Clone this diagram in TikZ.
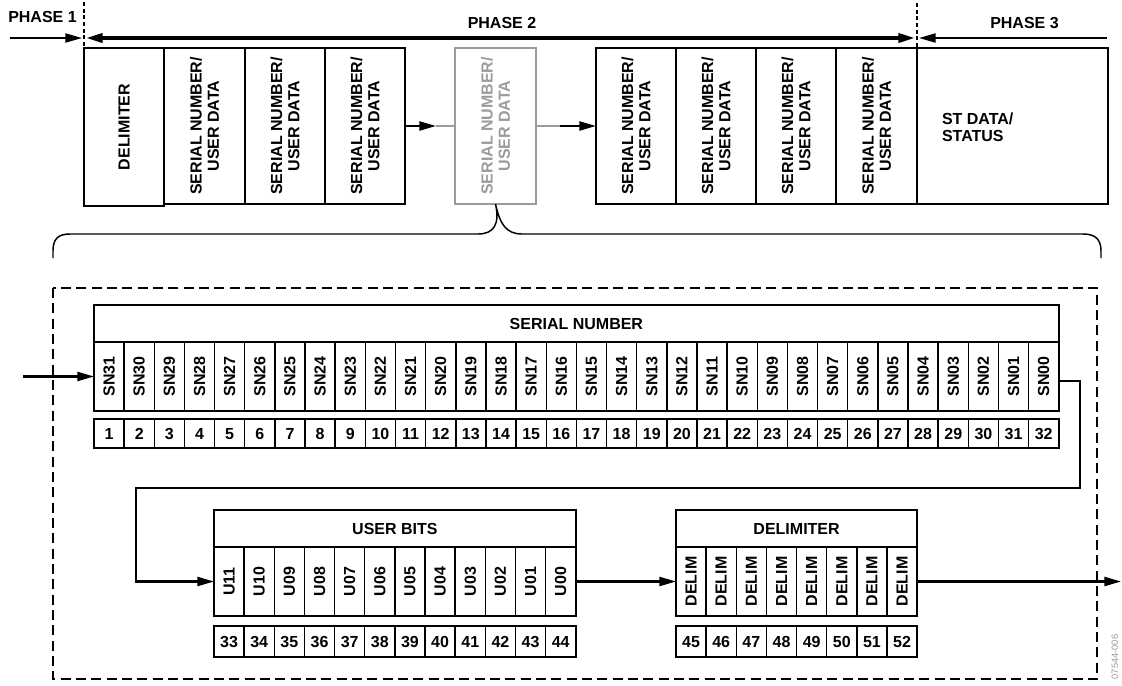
\documentclass[tikz,border=0pt]{standalone}
\usepackage{fontspec}
\setmainfont{Liberation Sans}
\usetikzlibrary{arrows.meta}
\definecolor{lgray}{RGB}{155,155,155}
\begin{document}
\begin{tikzpicture}[x=0.75pt,y=-0.75pt,
  every node/.style={font=\fontsize{12}{12.8}\selectfont\bfseries, inner sep=0pt, outer sep=0pt},
  sz/.style 2 args={minimum width=#1*0.75pt, minimum height=#2*0.75pt},
  tbox/.style={draw, line width=1.6pt, anchor=north west},
  cellbox/.style={draw, line width=1.1pt, anchor=north west},
  numbox/.style={draw, line width=1.1pt, anchor=north west, text height=8.6pt, text depth=0pt},
  titlebox/.style={draw, line width=1.6pt, anchor=north west},
  conn/.style={line width=1.6pt},
  arrowed/.style={-{Triangle[length=12.5pt,width=6.8pt]}},
  vlab/.style={rotate=90, align=center},
  phdash/.style={line width=0.9pt, dash pattern=on 3pt off 2pt},
  bigdash/.style={line width=1.2pt, dash pattern=on 7.5pt off 4pt},
]
\useasboundingbox (0,0) rectangle (1122,686);

% ---------- top row ----------
\node[tbox, sz={80}{158}] (d0) at (84,48) {};
\node[tbox, sz={81}{156}] (s1) at (164,48) {};
\node[tbox, sz={80}{156}] (s2) at (245,48) {};
\node[tbox, sz={80}{156}] (s3) at (325,48) {};
\node[tbox, sz={81}{156}, draw=lgray] (g) at (455,48) {};
\node[tbox, sz={80}{156}] (s4) at (596,48) {};
\node[tbox, sz={80}{156}] (s5) at (676,48) {};
\node[tbox, sz={80}{156}] (s6) at (756,48) {};
\node[tbox, sz={81}{156}] (s7) at (836,48) {};
\node[tbox, sz={191}{156}] (st) at (917,48) {};

\node[vlab] at (d0) {DELIMITER};
\foreach \b in {s1,s2,s3,s4,s5,s6,s7}{
  \node[vlab] at (\b) {SERIAL NUMBER/\\USER DATA};
}
\node[vlab, text=lgray] at (g) {SERIAL NUMBER/\\USER DATA};
\node[anchor=north west, align=left, font=\fontsize{12}{13.2}\selectfont\bfseries] (stl) at (942,112.5) {ST DATA/\\STATUS};

\draw[conn, arrowed] (s3.east) -- ++(31,0) coordinate (a1);
\draw[conn, draw=lgray] (a1) -- (g.west);
\draw[conn, draw=lgray] (g.east) -- ++(24,0) coordinate (a2);
\draw[conn, arrowed] (a2) -- (s4.west);

% phases
\node (ph1) at (42.5,16.7) {PHASE 1};
\node (ph2) at (502,22.5) {PHASE 2};
\node (ph3) at (1024.5,23.5) {PHASE 3};
\coordinate (v1top) at (84,2);
\coordinate (v2top) at (917,3);
\draw[phdash] (v1top) -- (d0.north west);
\draw[phdash] (v2top) -- (s7.north east);
\coordinate (p1a) at (10,38);
\coordinate (p1b) at (82,38);
\coordinate (p2a) at (86,38);
\coordinate (p2b) at (915,38);
\coordinate (p3a) at (1107,38);
\coordinate (p3b) at (919,38);
\draw[line width=1.4pt, arrowed] (p1a) -- (p1b);
\draw[line width=2.6pt, {Triangle[length=12.5pt,width=6.8pt]}-{Triangle[length=12.5pt,width=6.8pt]}] (p2a) -- (p2b);
\draw[line width=1.4pt, arrowed] (p3a) -- (p3b);

% brace
\coordinate (bl) at (53,258);
\coordinate (br) at (1101,258);
\draw[line width=1.1pt] (bl) -- (53,251) .. controls (53,239) and (58,234) .. (70,234)
  -- (478,234) .. controls (494,234) and (500,224) .. (g.south)
  .. controls (500,224) and (506,234) .. (522,234)
  -- (1083,234) .. controls (1095,234) and (1101,239) .. (1101,251) -- (br);

% dashed frame
\draw[bigdash] (53,288) rectangle (1097,679);

% ---------- serial number table ----------
\node[titlebox, sz={964.8}{37}] (snt) at (94,305) {SERIAL NUMBER};
\foreach \k in {1,...,32}{
  \pgfmathsetmacro\xx{94+(\k-1)*30.15}
  \pgfmathtruncatemacro\n{32-\k}
  \node[cellbox, sz={30.15}{69}] (snb\k) at (\xx,342) {};
  \node[vlab] at (snb\k) {SN\ifnum\n<10 0\fi\n};
  \node[numbox, sz={30.15}{29}] (snn\k) at (\xx,419) {\k};
}
\draw[line width=1.6pt] (snb1.north west) rectangle (snb32.south east);
\draw[line width=1.6pt] (snn1.north west) rectangle (snn32.south east);

% ---------- user bits table ----------
\node[titlebox, sz={361.8}{37}] (ubt) at (214,510) {USER BITS};
\foreach \k in {1,...,12}{
  \pgfmathsetmacro\xx{214+(\k-1)*30.15}
  \pgfmathtruncatemacro\n{12-\k}
  \pgfmathtruncatemacro\m{32+\k}
  \node[cellbox, sz={30.15}{69}] (ub\k) at (\xx,547) {};
  \node[vlab] at (ub\k) {U\ifnum\n<10 0\fi\n};
  \node[numbox, sz={30.15}{31}] (un\k) at (\xx,626) {\m};
}
\draw[line width=1.6pt] (ub1.north west) rectangle (ub12.south east);
\draw[line width=1.6pt] (un1.north west) rectangle (un12.south east);

% ---------- delimiter table ----------
\node[titlebox, sz={241.2}{37}] (dbt) at (676,510) {DELIMITER};
\foreach \k in {1,...,8}{
  \pgfmathsetmacro\xx{676+(\k-1)*30.15}
  \pgfmathtruncatemacro\m{44+\k}
  \node[cellbox, sz={30.15}{69}] (db\k) at (\xx,547) {};
  \node[vlab] at (db\k) {DELIM};
  \node[numbox, sz={30.15}{31}] (dn\k) at (\xx,626) {\m};
}
\draw[line width=1.6pt] (db1.north west) rectangle (db8.south east);
\draw[line width=1.6pt] (dn1.north west) rectangle (dn8.south east);

% ---------- connectors ----------
\coordinate (in) at (23,376.5);
\draw[conn, arrowed] (in) -- (snb1.west);
\coordinate (c1) at (1080,488);
\coordinate (c2) at (136,488);
\draw[conn, arrowed] ([yshift=-3.4pt]snb32.east) -| (c1) -- (c2) |- (ub1.west);
\draw[conn, arrowed] (ub12.east) -- (db1.west);
\coordinate (out) at (1121,581.5);
\draw[conn, arrowed] (db8.east) -- (out);

% tag
\node[rotate=90, font=\fontsize{7}{8}\selectfont, text=lgray] (tag) at (1115,657) {07544-006};
\end{tikzpicture}
\end{document}
